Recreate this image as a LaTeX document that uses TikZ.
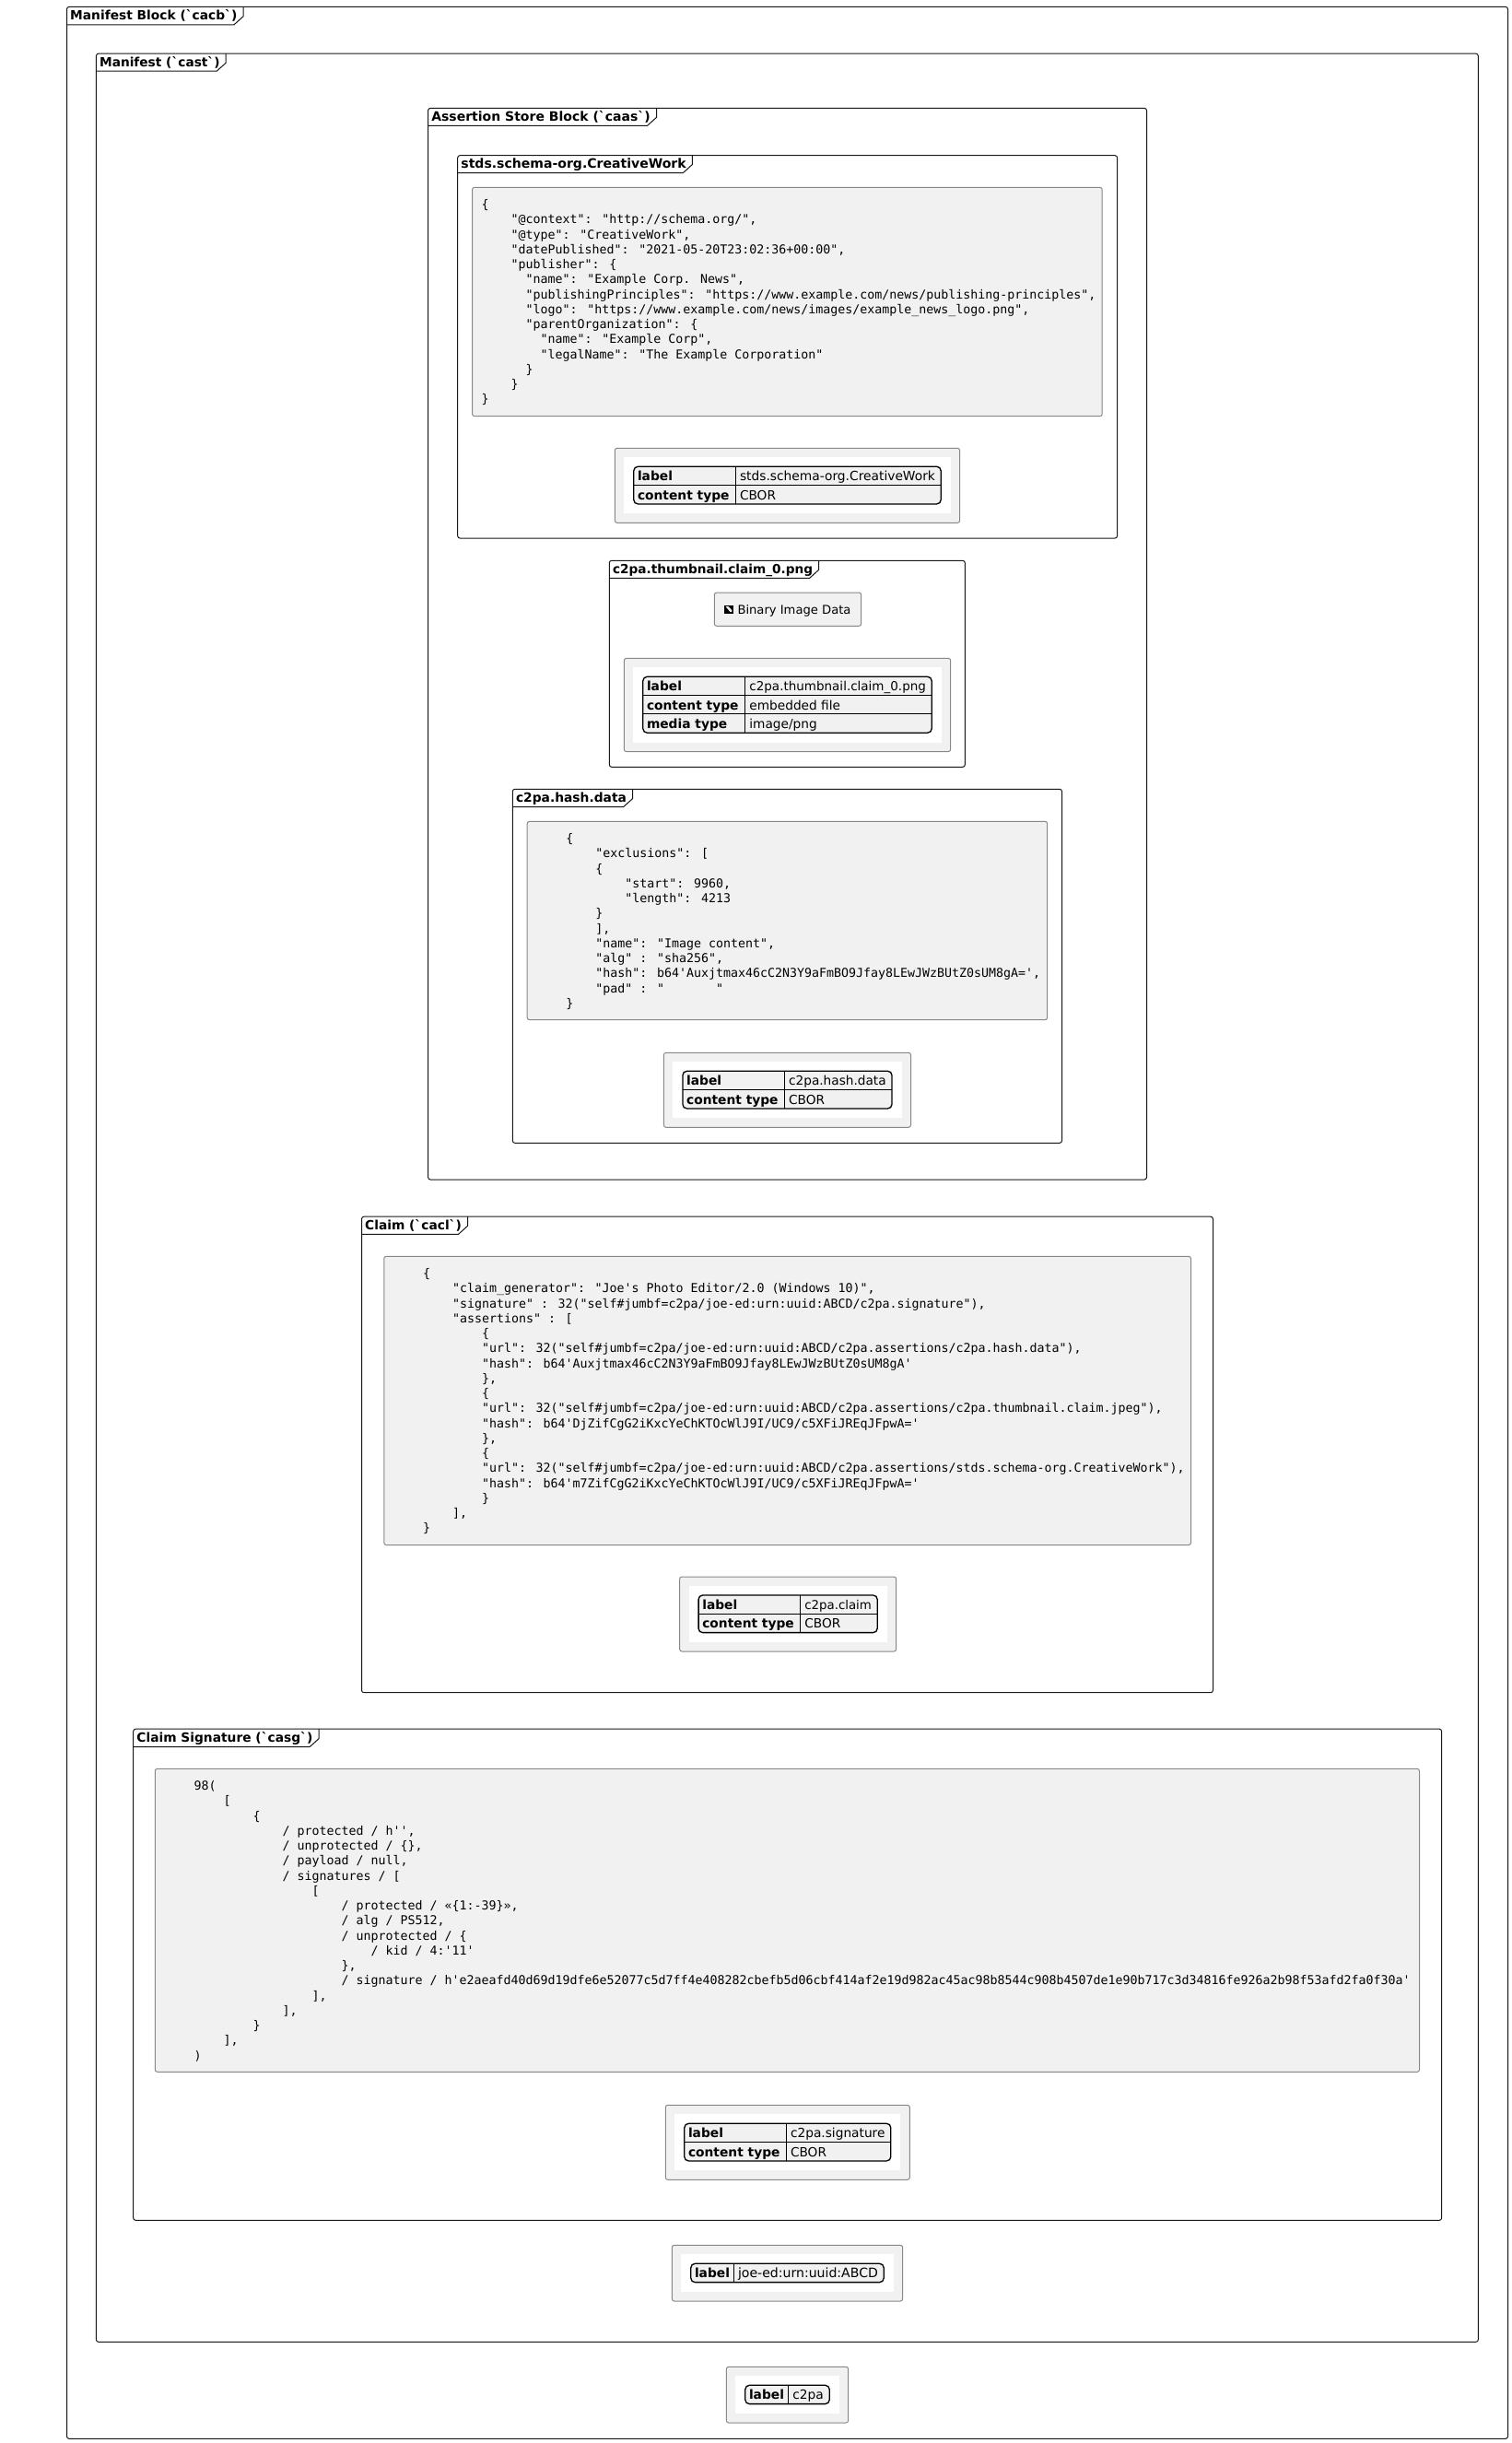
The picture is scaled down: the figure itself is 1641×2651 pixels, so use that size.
\documentclass[tikz,border=0pt]{standalone}
\usepackage{graphicx}
\usepackage{fontspec}
\newfontfamily\dvsans{DejaVu Sans}
\newfontfamily\dvmono{DejaVu Sans Mono}
\definecolor{boxfill}{HTML}{F1F1F1}
\definecolor{boxline}{HTML}{888888}
\definecolor{frameink}{HTML}{181818}
\tikzset{
  frameline/.style={draw=frameink,line width=1pt},
  frametitle/.style={anchor=base west,inner sep=0pt,text=black,font=\dvsans\bfseries\fontsize{14}{16}\selectfont},
  graybox/.style={fill=boxfill,draw=boxline,line width=1pt,rounded corners=2.5pt},
  codetext/.style={anchor=base west,inner sep=0pt,text=black,font=\dvmono\fontsize{13.29}{16.25}\selectfont},
  keytext/.style={anchor=base west,inner sep=0pt,text=black,font=\dvsans\bfseries\fontsize{13.8}{16}\selectfont},
  valtext/.style={anchor=base west,inner sep=0pt,text=black,font=\dvsans\fontsize{13.7}{16}\selectfont},
}
% name x1 y1 x2 y2 tabright tabbottom title
\newcommand\blockframe[8]{%
  \draw[frameline,rounded corners=2.5pt] (#2,#3) rectangle (#4,#5);
  \draw[frameline] (#2,#7) -- ({#6-10},#7) -- (#6,{#7-9}) -- (#6,#3);
  \pgfmathsetmacro\titlew{#6-#2-10.3}
  \node[frametitle] (#1) at ({#2+3.5},{#3+14}) {\resizebox{\titlew pt}{!}{#8}};
}
% name x1 y1 x2 rows divider list
\newcommand\kvpanel[7]{%
  \pgfmathsetmacro\pbot{#3+40.4+#5*20.3}
  \pgfmathsetmacro\tbot{#3+20+#5*20.3}
  \pgfmathsetmacro\valw{#4-#6-31.5}
  \draw[graybox] (#2,#3) rectangle (#4,\pbot);
  \fill[white] ({#2+10},{#3+10}) rectangle ({#4-10},{\pbot-10});
  \fill[boxfill] ({#2+20.5},{#3+20}) rectangle ({#4-20.5},\tbot);
  \foreach \kk/\vv [count=\ri] in {#7} {
    \pgfmathsetmacro\rtop{#3+20+(\ri-1)*20.3}
    \node[keytext] (#1-k\ri) at ({#2+24.5},{\rtop+15.5}) {\kk};
    \ifnum\ri=1
      \node[valtext] (#1-v\ri) at ({#6+4.5},{\rtop+15.5}) {\resizebox{\valw pt}{!}{\vv}};
    \else
      \node[valtext] (#1-v\ri) at ({#6+4.5},{\rtop+15.5}) {\vv};
      \draw[black,line width=1pt] ({#2+20.5},\rtop) -- ({#4-20.5},\rtop);
    \fi
  }
  \draw[black,line width=1pt] (#6,{#3+20}) -- (#6,\tbot);
  \draw[black,line width=1.3pt,rounded corners=4.5pt] ({#2+20.5},{#3+20}) rectangle ({#4-20.5},\tbot);
}
\newcommand\cl[1]{\hbox{#1}}
\newcommand\codestack[1]{\vtop{\lineskiplimit=-100pt #1}}
\begin{document}
\begin{tikzpicture}[x=1pt,y=-1pt]
\useasboundingbox (0,0) rectangle (1641,2651);
\fill[white] (0,0) rectangle (1641,2651);

\blockframe{cacb}{72.5}{7.4}{1636.5}{2646.3}{264}{26.8}{Manifest Block (`cacb`)}
\blockframe{cast}{104.4}{58.2}{1604.3}{2541.3}{245.2}{77.2}{Manifest (`cast`)}
\blockframe{caas}{464.6}{117.4}{1244.5}{1280}{712.5}{136.4}{Assertion Store Block (`caas`)}

% stds.schema-org.CreativeWork
\blockframe{stds}{496.7}{168.7}{1212.6}{584}{751.3}{187.6}{stds.schema-org.CreativeWork}
\draw[graybox] (512.5,203.3) rectangle (1196.2,451.6);
\node[codetext] (stdscode) at (522.5,226.7) {\codestack{%
\cl{\{}
\cl{~~~~"@context": "http://schema.org/",}
\cl{~~~~"@type": "CreativeWork",}
\cl{~~~~"datePublished": "2021-05-20T23:02:36+00:00",}
\cl{~~~~"publisher": \{}
\cl{~~~~~~"name": "Example Corp. News",}
\cl{~~~~~~"publishingPrinciples": "https://www.example.com/news/publishing-principles",}
\cl{~~~~~~"logo": "https://www.example.com/news/images/example\_news\_logo.png",}
\cl{~~~~~~"parentOrganization": \{}
\cl{~~~~~~~~"name": "Example Corp",}
\cl{~~~~~~~~"legalName": "The Example Corporation"}
\cl{~~~~~~\}}
\cl{~~~~\}}
\cl{\}}}};
\kvpanel{stdskv}{667.3}{486.3}{1041.7}{2}{798.3}{label/stds.schema-org.CreativeWork,content type/CBOR}

% thumbnail
\blockframe{thumb}{661.3}{608.3}{1047.3}{832.3}{888.7}{627.3}{c2pa.thumbnail.claim\_0.png}
\draw[graybox] (775.3,643) rectangle (934.7,679.3);
\fill[black] (786.3,657) rectangle (795.7,665.7);
\fill[boxfill] (787.6,658.2) -- (790.6,658.2) -- (794.4,662.2) -- (794.4,664.2) -- (792.6,664.2) -- (789.6,660.6) -- cycle;
\node[valtext] (bindata) at (800.3,666.7) {\resizebox{123pt}{!}{Binary Image Data}};
\kvpanel{thumbkv}{677.3}{714.3}{1031.7}{3}{808.7}{label/c2pa.thumbnail.claim\_0.png,content type/embedded file,media type/{image/png}}

% hash data
\blockframe{hash}{556.3}{856.3}{1152.5}{1240.3}{686.5}{875.7}{c2pa.hash.data}
\draw[graybox] (572.2,891.3) rectangle (1136.7,1106.7);
\node[codetext] (hashcode) at (582.2,914.7) {\codestack{%
\cl{~~~~\{}
\cl{~~~~~~~~"exclusions": [}
\cl{~~~~~~~~\{}
\cl{~~~~~~~~~~~~"start": 9960,}
\cl{~~~~~~~~~~~~"length": 4213}
\cl{~~~~~~~~\}}
\cl{~~~~~~~~],}
\cl{~~~~~~~~"name": "Image content",}
\cl{~~~~~~~~"alg" : "sha256",}
\cl{~~~~~~~~"hash": b64'Auxjtmax46cC2N3Y9aFmBO9Jfay8LEwJWzBUtZ0sUM8gA=',}
\cl{~~~~~~~~"pad" : "~~~~~~~"}
\cl{~~~~\}}}};
\kvpanel{hashkv}{720.4}{1142.3}{988.5}{2}{851.4}{label/c2pa.hash.data,content type/CBOR}

% claim
\blockframe{claim}{392.5}{1320.2}{1316.5}{1836.7}{507.5}{1339.3}{Claim (`cacl`)}
\draw[graybox] (416.8,1363.3) rectangle (1292.5,1676.5);
\node[codetext] (claimcode) at (426.8,1386.7) {\codestack{%
\cl{~~~~\{}
\cl{~~~~~~~~"claim\_generator": "Joe's Photo Editor/2.0 (Windows 10)",}
\cl{~~~~~~~~"signature" : 32("self\#jumbf=c2pa/joe-ed:urn:uuid:ABCD/c2pa.signature"),}
\cl{~~~~~~~~"assertions" : [}
\cl{~~~~~~~~~~~~\{}
\cl{~~~~~~~~~~~~"url": 32("self\#jumbf=c2pa/joe-ed:urn:uuid:ABCD/c2pa.assertions/c2pa.hash.data"),}
\cl{~~~~~~~~~~~~"hash": b64'Auxjtmax46cC2N3Y9aFmBO9Jfay8LEwJWzBUtZ0sUM8gA'}
\cl{~~~~~~~~~~~~\},}
\cl{~~~~~~~~~~~~\{}
\cl{~~~~~~~~~~~~"url": 32("self\#jumbf=c2pa/joe-ed:urn:uuid:ABCD/c2pa.assertions/c2pa.thumbnail.claim.jpeg"),}
\cl{~~~~~~~~~~~~"hash": b64'DjZifCgG2iKxcYeChKTOcWlJ9I/UC9/c5XFiJREqJFpwA='}
\cl{~~~~~~~~~~~~\},}
\cl{~~~~~~~~~~~~\{}
\cl{~~~~~~~~~~~~"url": 32("self\#jumbf=c2pa/joe-ed:urn:uuid:ABCD/c2pa.assertions/stds.schema-org.CreativeWork"),}
\cl{~~~~~~~~~~~~"hash": b64'm7ZifCgG2iKxcYeChKTOcWlJ9I/UC9/c5XFiJREqJFpwA='}
\cl{~~~~~~~~~~~~\}}
\cl{~~~~~~~~],}
\cl{~~~~\}}}};
\kvpanel{claimkv}{737.6}{1711}{972.7}{2}{868.6}{label/c2pa.claim,content type/CBOR}

% claim signature
\blockframe{sig}{144.7}{1876.2}{1564.6}{2409.3}{346}{1895.7}{Claim Signature (`casg`)}
\draw[graybox] (168.3,1919.3) rectangle (1540.5,2248.3);
\node[codetext] (sigcode) at (178.3,1942.7) {\codestack{%
\cl{~~~~98(}
\cl{~~~~~~~~[}
\cl{~~~~~~~~~~~~\{}
\cl{~~~~~~~~~~~~~~~~/ protected / h'',}
\cl{~~~~~~~~~~~~~~~~/ unprotected / \{\},}
\cl{~~~~~~~~~~~~~~~~/ payload / null,}
\cl{~~~~~~~~~~~~~~~~/ signatures / [}
\cl{~~~~~~~~~~~~~~~~~~~~[}
\cl{~~~~~~~~~~~~~~~~~~~~~~~~/ protected / «\{1:-39\}»,}
\cl{~~~~~~~~~~~~~~~~~~~~~~~~/ alg / PS512,}
\cl{~~~~~~~~~~~~~~~~~~~~~~~~/ unprotected / \{}
\cl{~~~~~~~~~~~~~~~~~~~~~~~~~~~~/ kid / 4:'11'}
\cl{~~~~~~~~~~~~~~~~~~~~~~~~\},}
\cl{~~~~~~~~~~~~~~~~~~~~~~~~/ signature / h'e2aeafd40d69d19dfe6e52077c5d7ff4e408282cbefb5d06cbf414af2e19d982ac45ac98b8544c908b4507de1e90b717c3d34816fe926a2b98f53afd2fa0f30a'}
\cl{~~~~~~~~~~~~~~~~~~~~],}
\cl{~~~~~~~~~~~~~~~~],}
\cl{~~~~~~~~~~~~\}}
\cl{~~~~~~~~],}
\cl{~~~~)}}};
\kvpanel{sigkv}{722.3}{2284.3}{987.3}{2}{853.3}{label/c2pa.signature,content type/CBOR}

\kvpanel{joekv}{729.3}{2436.3}{979.7}{1}{796.3}{label/joe-ed:urn:uuid:ABCD}
\kvpanel{c2pakv}{788.3}{2568.3}{920.7}{1}{855.7}{label/c2pa}
\end{tikzpicture}
\end{document}
